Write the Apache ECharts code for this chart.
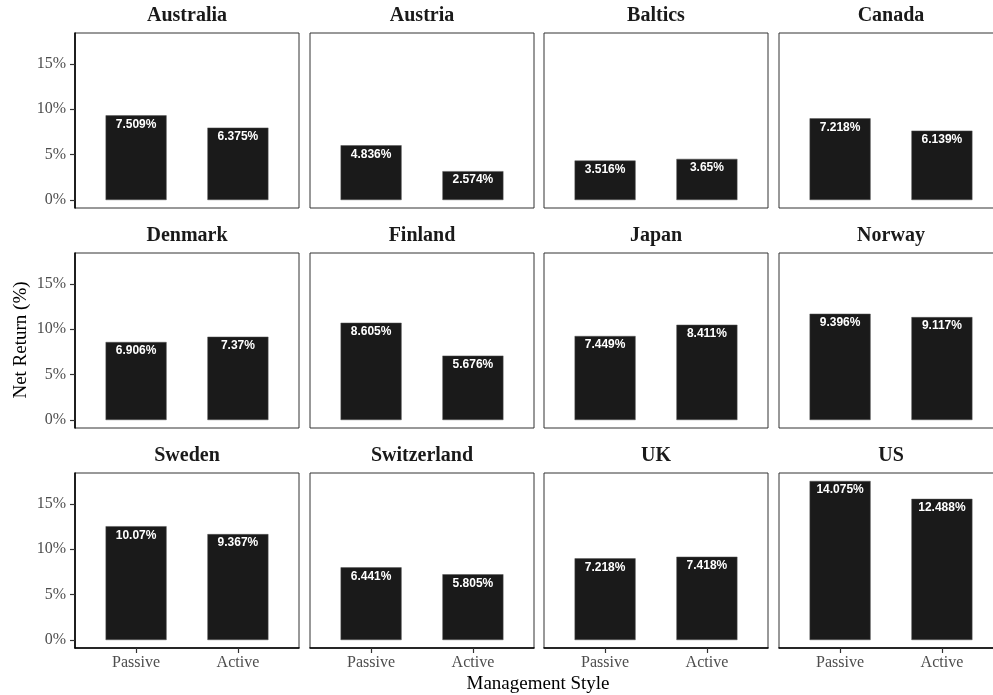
<!DOCTYPE html>
<html>
<head>
<meta charset="utf-8">
<script src="https://cdn.jsdelivr.net/npm/echarts@6/dist/echarts.min.js"></script>
<style>
	html, body { margin: 0; padding: 0; background: #fff; }
	#chart { width: 993px; height: 695px; }
</style>
</head>
<body>
<div id="chart"></div>
<script>
// facets, in reading order
var countries = ['Australia', 'Austria', 'Baltics', 'Canada', 'Denmark', 'Finland',
	'Japan', 'Norway', 'Sweden', 'Switzerland', 'UK', 'US'];
var styles = ['Passive', 'Active'];
// bar heights as drawn (%)
var passiveBar = [9.32, 6.03, 4.35, 8.99, 8.59, 10.71, 9.25, 11.70, 12.53, 8.00, 8.99, 17.51];
var activeBar = [7.97, 3.18, 4.53, 7.64, 9.17, 7.09, 10.49, 11.33, 11.66, 7.24, 9.17, 15.54];
// labels printed on the bars
var passiveLabel = ['7.509%', '4.836%', '3.516%', '7.218%', '6.906%', '8.605%',
	'7.449%', '9.396%', '10.07%', '6.441%', '7.218%', '14.075%'];
var activeLabel = ['6.375%', '2.574%', '3.65%', '6.139%', '7.37%', '5.676%',
	'8.411%', '9.117%', '9.367%', '5.805%', '7.418%', '12.488%'];
var yTicks = [0, 5, 10, 15];

var SERIF = '"Liberation Serif", "DejaVu Serif", serif';
var SANS = '"Liberation Sans", Arial, sans-serif';

// panel geometry
var colLeft = [75, 310, 544, 779];
var rowTop = [33, 253, 473];
var panelW = 224, panelH = 175;

var myChart = echarts.init(document.getElementById('chart'));

var grids = [], xAxes = [], yAxes = [], series = [], graphics = [];

countries.forEach(function (name, i) {
	var col = i % 4, row = Math.floor(i / 4);
	var isLeft = col === 0, isBottom = row === 2;

	grids.push({
		left: colLeft[col], top: rowTop[row], width: panelW, height: panelH,
		show: true, borderColor: '#333', borderWidth: 1, backgroundColor: '#fff',
		outerBoundsMode: 'none'
	});

	xAxes.push({
		type: 'value', gridIndex: i, min: 0.4, max: 2.6,
		splitLine: { show: false },
		axisLine: { show: isBottom, onZero: false, lineStyle: { color: '#000', width: 1.6 } },
		axisTick: { show: isBottom, customValues: [1, 2], length: 5, lineStyle: { color: '#333', width: 1.2 } },
		axisLabel: {
			show: isBottom, customValues: [1, 2], margin: 7,
			fontFamily: SERIF, fontSize: 16, color: '#4d4d4d',
			formatter: function (v) { return styles[Math.round(v) - 1]; }
		}
	});

	yAxes.push({
		type: 'value', gridIndex: i, min: -0.876, max: 18.386,
		splitLine: { show: false },
		axisLine: { show: isLeft, onZero: false, lineStyle: { color: '#000', width: 1.6 } },
		axisTick: { show: isLeft, customValues: yTicks, length: 5, lineStyle: { color: '#333', width: 1.2 } },
		axisLabel: {
			show: isLeft, customValues: yTicks, margin: 9,
			fontFamily: SERIF, fontSize: 16, color: '#4d4d4d',
			formatter: function (v) { return v + '%'; }
		}
	});

	series.push({
		type: 'bar', xAxisIndex: i, yAxisIndex: i, barWidth: 61,
		itemStyle: { color: '#1a1a1a', borderColor: '#555', borderWidth: 0.5 },
		label: {
			show: true, position: 'insideTop', distance: 3,
			color: '#fff', fontFamily: SANS, fontWeight: 'bold', fontSize: 12,
			formatter: function (p) { return p.data.lab; }
		},
		data: [
			{ value: [1, passiveBar[i]], lab: passiveLabel[i] },
			{ value: [2, activeBar[i]], lab: activeLabel[i] }
		]
	});

	// facet title
	graphics.push({
		type: 'text', x: colLeft[col] + panelW / 2, y: rowTop[row] - 17,
		style: {
			text: name, align: 'center', verticalAlign: 'middle',
			fontFamily: SERIF, fontWeight: 'bold', fontSize: 20, fill: '#1a1a1a'
		}
	});
});

// axis titles
graphics.push({
	type: 'text', x: 538, y: 684,
	style: { text: 'Management Style', align: 'center', verticalAlign: 'middle',
		fontFamily: SERIF, fontSize: 19, fill: '#000' }
});
graphics.push({
	type: 'text', x: 21, y: 340, rotation: Math.PI / 2,
	style: { text: 'Net Return (%)', align: 'center', verticalAlign: 'middle',
		fontFamily: SERIF, fontSize: 19, fill: '#000' }
});

var option = {
	animation: false,
	backgroundColor: '#fff',
	grid: grids,
	xAxis: xAxes,
	yAxis: yAxes,
	series: series,
	graphic: graphics
};
myChart.setOption(option);
</script>
</body>
</html>
